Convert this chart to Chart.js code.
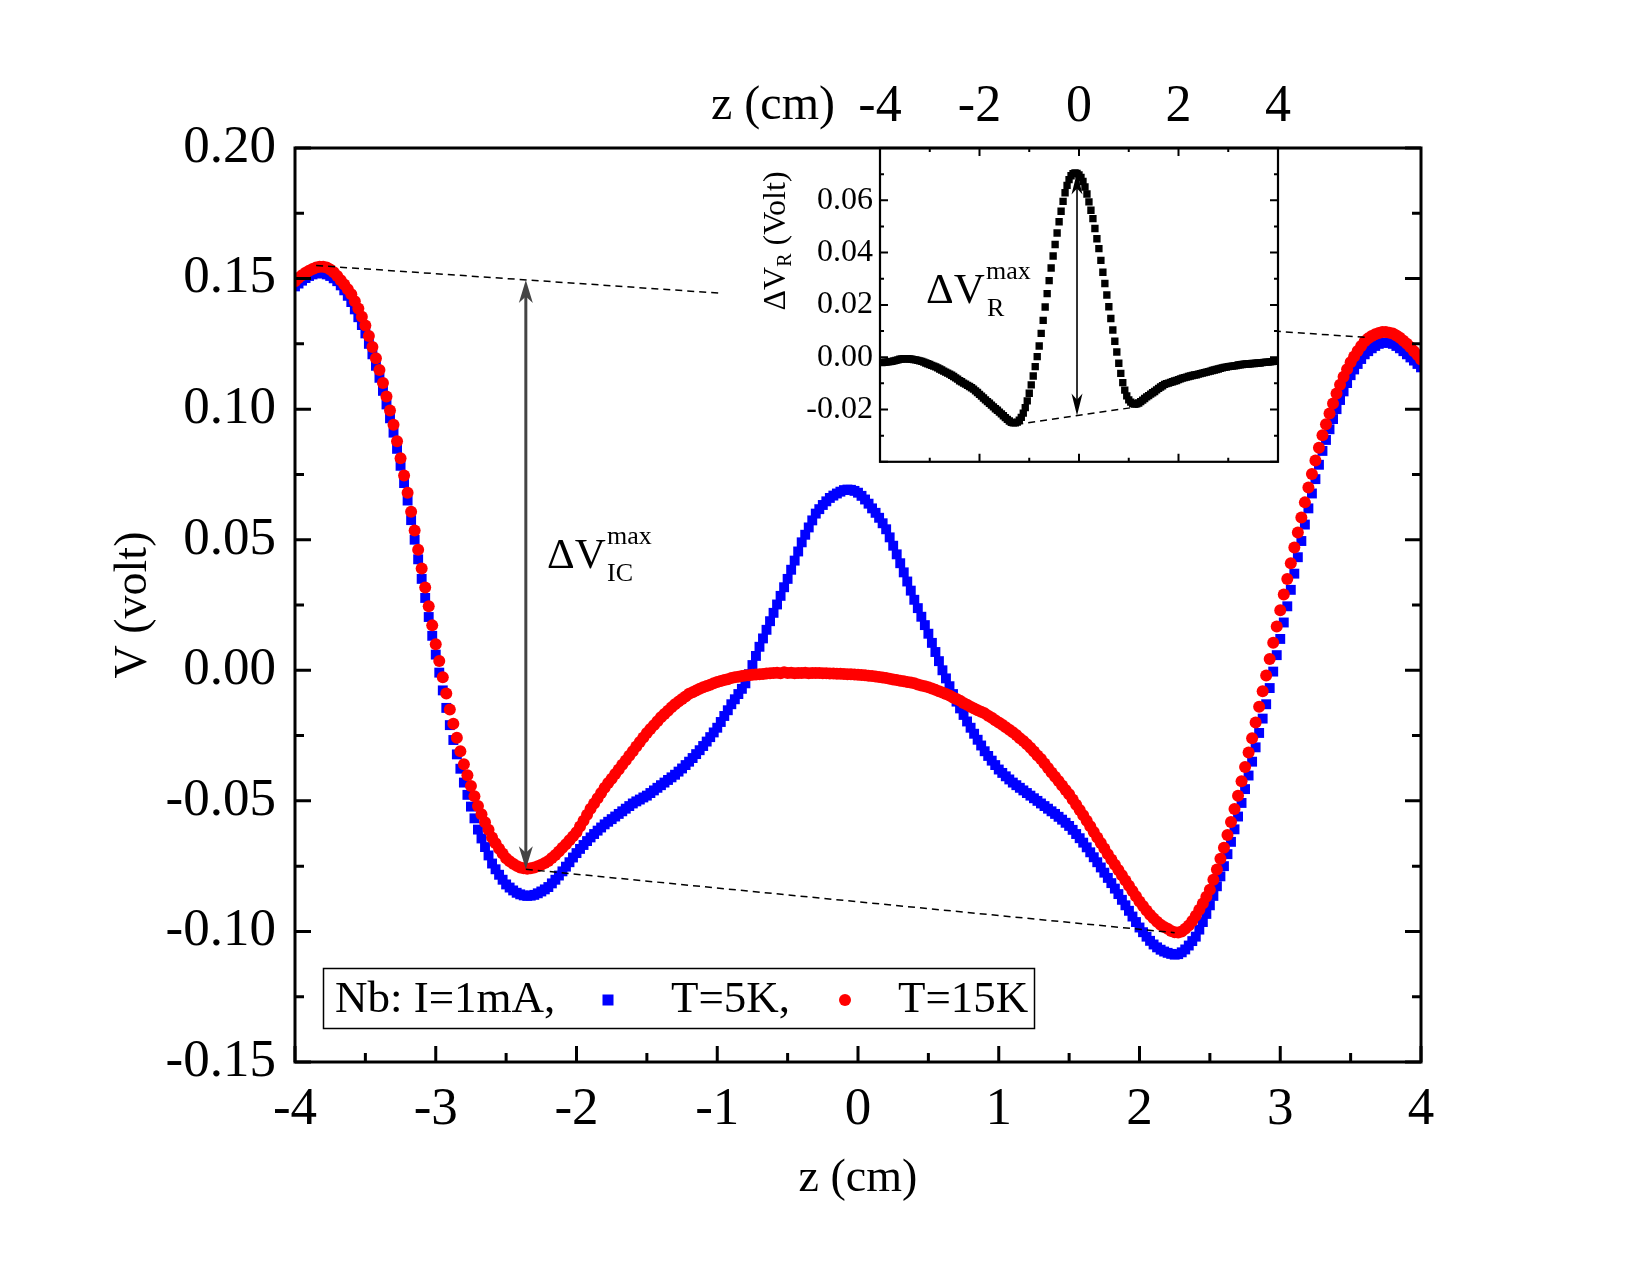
<!DOCTYPE html>
<html><head><meta charset="utf-8">
<script src="https://cdn.jsdelivr.net/npm/chart.js@4/dist/chart.umd.min.js"></script>
<style>
html,body{margin:0;padding:0;background:#fff;}
#wrap{position:relative;width:1650px;height:1275px;background:#fff;}
#main{position:absolute;left:0;top:0;}
#inset{position:absolute;left:700px;top:0;}
</style></head><body>
<div id="wrap"><canvas id="main" width="1650" height="1275"></canvas><canvas id="inset" width="600" height="488"></canvas></div>
<script>
const FONT = '"Liberation Serif", "Times New Roman", serif';

// ---------- main chart data: V (volt) vs z (cm), z from -4 step 0.025 ----------
const zStart = -4, zStep = 0.025;
const seriesNames = ['T=5K', 'T=15K'];
const vT5K = [
0.1470,0.1481,0.1492,0.1502,0.1510,0.1516,0.1520,0.1521,
0.1520,0.1516,0.1510,0.1501,0.1490,0.1474,0.1455,0.1434,
0.1410,0.1382,0.1352,0.1322,0.1290,0.1250,0.1210,0.1166,
0.1120,0.1070,0.1018,0.0965,0.0910,0.0848,0.0783,0.0717,
0.0650,0.0575,0.0500,0.0425,0.0350,0.0277,0.0204,0.0132,
0.0060,-0.0009,-0.0077,-0.0144,-0.0210,-0.0267,-0.0322,-0.0377,
-0.0430,-0.0477,-0.0522,-0.0567,-0.0610,-0.0644,-0.0677,-0.0709,
-0.0740,-0.0762,-0.0783,-0.0802,-0.0820,-0.0832,-0.0843,-0.0852,
-0.0858,-0.0862,-0.0864,-0.0863,-0.0860,-0.0854,-0.0847,-0.0839,
-0.0830,-0.0816,-0.0802,-0.0786,-0.0770,-0.0752,-0.0735,-0.0717,
-0.0700,-0.0684,-0.0669,-0.0654,-0.0640,-0.0627,-0.0614,-0.0602,
-0.0590,-0.0580,-0.0570,-0.0560,-0.0550,-0.0540,-0.0530,-0.0520,
-0.0510,-0.0502,-0.0495,-0.0487,-0.0480,-0.0470,-0.0460,-0.0450,
-0.0440,-0.0430,-0.0420,-0.0410,-0.0400,-0.0388,-0.0376,-0.0363,
-0.0350,-0.0336,-0.0321,-0.0306,-0.0290,-0.0273,-0.0256,-0.0238,
-0.0220,-0.0198,-0.0175,-0.0153,-0.0130,-0.0111,-0.0091,-0.0071,
-0.0050,-0.0015,0.0020,0.0055,0.0090,0.0122,0.0155,0.0188,
0.0220,0.0252,0.0285,0.0318,0.0350,0.0385,0.0420,0.0455,
0.0490,0.0519,0.0547,0.0574,0.0600,0.0617,0.0633,0.0647,
0.0660,0.0669,0.0677,0.0684,0.0690,0.0692,0.0691,0.0687,
0.0680,0.0668,0.0654,0.0638,0.0620,0.0603,0.0584,0.0563,
0.0540,0.0509,0.0477,0.0444,0.0410,0.0375,0.0340,0.0305,
0.0270,0.0238,0.0205,0.0173,0.0140,0.0105,0.0070,0.0035,
0.0000,-0.0031,-0.0061,-0.0091,-0.0120,-0.0146,-0.0171,-0.0196,
-0.0220,-0.0243,-0.0266,-0.0288,-0.0310,-0.0328,-0.0346,-0.0363,
-0.0380,-0.0393,-0.0406,-0.0418,-0.0430,-0.0440,-0.0450,-0.0460,
-0.0470,-0.0480,-0.0490,-0.0500,-0.0510,-0.0520,-0.0530,-0.0540,
-0.0550,-0.0561,-0.0572,-0.0584,-0.0596,-0.0611,-0.0627,-0.0643,
-0.0660,-0.0678,-0.0697,-0.0716,-0.0735,-0.0755,-0.0775,-0.0795,
-0.0815,-0.0836,-0.0857,-0.0879,-0.0900,-0.0921,-0.0943,-0.0964,
-0.0985,-0.1003,-0.1020,-0.1036,-0.1050,-0.1061,-0.1070,-0.1077,
-0.1082,-0.1086,-0.1089,-0.1087,-0.1080,-0.1069,-0.1054,-0.1037,
-0.1020,-0.0993,-0.0964,-0.0933,-0.0900,-0.0864,-0.0827,-0.0789,
-0.0750,-0.0704,-0.0657,-0.0609,-0.0560,-0.0508,-0.0455,-0.0403,
-0.0350,-0.0295,-0.0240,-0.0185,-0.0130,-0.0068,-0.0005,0.0058,
0.0120,0.0183,0.0245,0.0308,0.0370,0.0433,0.0495,0.0558,
0.0620,0.0677,0.0732,0.0787,0.0840,0.0882,0.0923,0.0962,
0.1000,0.1035,0.1068,0.1100,0.1130,0.1152,0.1173,0.1192,
0.1210,0.1222,0.1233,0.1242,0.1250,0.1254,0.1255,0.1254,
0.1250,0.1242,0.1233,0.1222,0.1210,0.1198,0.1186,0.1173,
0.1160];
const vT15K = [
0.1490,0.1502,0.1513,0.1522,0.1530,0.1537,0.1542,0.1545,
0.1545,0.1542,0.1535,0.1524,0.1510,0.1494,0.1477,0.1459,
0.1440,0.1413,0.1385,0.1354,0.1320,0.1280,0.1238,0.1195,
0.1150,0.1100,0.1048,0.0995,0.0940,0.0877,0.0812,0.0746,
0.0680,0.0607,0.0535,0.0462,0.0390,0.0317,0.0245,0.0172,
0.0100,0.0036,-0.0027,-0.0089,-0.0150,-0.0205,-0.0258,-0.0310,
-0.0360,-0.0402,-0.0443,-0.0482,-0.0520,-0.0551,-0.0582,-0.0611,
-0.0640,-0.0662,-0.0683,-0.0702,-0.0720,-0.0731,-0.0741,-0.0749,
-0.0755,-0.0758,-0.0760,-0.0758,-0.0755,-0.0750,-0.0745,-0.0738,
-0.0730,-0.0719,-0.0707,-0.0694,-0.0680,-0.0666,-0.0651,-0.0636,
-0.0620,-0.0598,-0.0576,-0.0553,-0.0530,-0.0510,-0.0490,-0.0470,
-0.0450,-0.0432,-0.0415,-0.0397,-0.0380,-0.0362,-0.0345,-0.0327,
-0.0310,-0.0292,-0.0275,-0.0257,-0.0240,-0.0225,-0.0210,-0.0195,
-0.0180,-0.0167,-0.0155,-0.0142,-0.0130,-0.0120,-0.0110,-0.0100,
-0.0090,-0.0084,-0.0077,-0.0071,-0.0065,-0.0060,-0.0055,-0.0050,
-0.0045,-0.0041,-0.0037,-0.0034,-0.0030,-0.0027,-0.0025,-0.0022,
-0.0020,-0.0019,-0.0017,-0.0016,-0.0015,-0.0014,-0.0012,-0.0011,
-0.0010,-0.0009,-0.0011,-0.0008,-0.0010,-0.0009,-0.0011,-0.0010,
-0.0010,-0.0009,-0.0011,-0.0010,-0.0010,-0.0010,-0.0011,-0.0011,
-0.0012,-0.0012,-0.0013,-0.0013,-0.0014,-0.0015,-0.0015,-0.0016,
-0.0017,-0.0018,-0.0019,-0.0021,-0.0022,-0.0024,-0.0026,-0.0028,
-0.0030,-0.0032,-0.0035,-0.0037,-0.0040,-0.0042,-0.0045,-0.0047,
-0.0050,-0.0054,-0.0058,-0.0061,-0.0065,-0.0070,-0.0075,-0.0080,
-0.0085,-0.0091,-0.0097,-0.0104,-0.0110,-0.0117,-0.0125,-0.0132,
-0.0140,-0.0146,-0.0153,-0.0159,-0.0165,-0.0174,-0.0182,-0.0191,
-0.0200,-0.0209,-0.0218,-0.0228,-0.0237,-0.0248,-0.0260,-0.0271,
-0.0283,-0.0297,-0.0311,-0.0326,-0.0340,-0.0357,-0.0374,-0.0391,
-0.0408,-0.0424,-0.0441,-0.0458,-0.0475,-0.0495,-0.0515,-0.0535,
-0.0555,-0.0576,-0.0597,-0.0619,-0.0640,-0.0661,-0.0682,-0.0704,
-0.0725,-0.0745,-0.0765,-0.0785,-0.0805,-0.0825,-0.0845,-0.0865,
-0.0885,-0.0903,-0.0920,-0.0936,-0.0950,-0.0963,-0.0974,-0.0983,
-0.0990,-0.0998,-0.1003,-0.1004,-0.1000,-0.0990,-0.0977,-0.0960,
-0.0940,-0.0917,-0.0893,-0.0867,-0.0840,-0.0802,-0.0763,-0.0722,
-0.0680,-0.0631,-0.0581,-0.0531,-0.0480,-0.0425,-0.0370,-0.0315,
-0.0260,-0.0200,-0.0140,-0.0080,-0.0020,0.0043,0.0105,0.0168,
0.0230,0.0290,0.0350,0.0410,0.0470,0.0528,0.0585,0.0643,
0.0700,0.0752,0.0803,0.0852,0.0900,0.0942,0.0983,0.1022,
0.1060,0.1093,0.1124,0.1153,0.1180,0.1202,0.1223,0.1242,
0.1260,0.1271,0.1280,0.1287,0.1292,0.1295,0.1295,0.1293,
0.1290,0.1282,0.1273,0.1262,0.1250,0.1237,0.1222,0.1207,
0.1190];

// ---------- inset data: ΔV_R (Volt) vs z (cm), z from -4 step 0.04 ----------
const insetStart = -4, insetStep = 0.04;
const dVR = [
-0.0020,-0.0021,-0.0020,-0.0019,-0.0018,
-0.0017,-0.0016,-0.0014,-0.0012,-0.0010,
-0.0008,-0.0007,-0.0006,-0.0006,-0.0006,
-0.0007,-0.0008,-0.0009,-0.0010,-0.0012,
-0.0014,-0.0016,-0.0019,-0.0022,-0.0025,
-0.0028,-0.0031,-0.0034,-0.0037,-0.0041,
-0.0045,-0.0049,-0.0053,-0.0057,-0.0061,
-0.0065,-0.0069,-0.0074,-0.0079,-0.0084,
-0.0090,-0.0094,-0.0099,-0.0103,-0.0108,
-0.0112,-0.0117,-0.0122,-0.0129,-0.0135,
-0.0142,-0.0149,-0.0156,-0.0163,-0.0170,
-0.0176,-0.0183,-0.0190,-0.0197,-0.0203,
-0.0210,-0.0217,-0.0224,-0.0231,-0.0238,
-0.0244,-0.0249,-0.0251,-0.0251,-0.0248,
-0.0241,-0.0230,-0.0214,-0.0193,-0.0167,
-0.0138,-0.0106,-0.0072,-0.0036,0.0002,
0.0043,0.0091,0.0141,0.0192,0.0243,
0.0293,0.0341,0.0387,0.0431,0.0475,
0.0518,0.0558,0.0596,0.0629,0.0657,
0.0679,0.0694,0.0702,0.0705,0.0703,
0.0697,0.0687,0.0672,0.0651,0.0624,
0.0594,0.0562,0.0530,0.0492,0.0453,
0.0415,0.0370,0.0325,0.0282,0.0238,
0.0193,0.0148,0.0104,0.0061,0.0020,
-0.0023,-0.0062,-0.0097,-0.0126,-0.0148,
-0.0163,-0.0172,-0.0177,-0.0179,-0.0178,
-0.0175,-0.0170,-0.0164,-0.0158,-0.0152,
-0.0147,-0.0141,-0.0136,-0.0131,-0.0125,
-0.0119,-0.0114,-0.0109,-0.0104,-0.0101,
-0.0099,-0.0096,-0.0094,-0.0091,-0.0089,
-0.0086,-0.0083,-0.0080,-0.0078,-0.0076,
-0.0074,-0.0072,-0.0070,-0.0068,-0.0067,
-0.0065,-0.0063,-0.0061,-0.0059,-0.0057,
-0.0055,-0.0053,-0.0051,-0.0049,-0.0047,
-0.0045,-0.0043,-0.0041,-0.0039,-0.0038,
-0.0036,-0.0035,-0.0034,-0.0033,-0.0032,
-0.0030,-0.0029,-0.0028,-0.0027,-0.0026,
-0.0026,-0.0025,-0.0024,-0.0024,-0.0023,
-0.0022,-0.0022,-0.0021,-0.0020,-0.0019,
-0.0019,-0.0018,-0.0017,-0.0016,-0.0015,
-0.0014];

// ---------- ticks ----------
const mainXTicks = [-4,-3,-2,-1,0,1,2,3,4];
const mainXTickLabels = ['-4','-3','-2','-1','0','1','2','3','4'];
const mainXMinor = [-3.5,-2.5,-1.5,-0.5,0.5,1.5,2.5,3.5];
const mainYTicks = [-0.15,-0.10,-0.05,0,0.05,0.10,0.15,0.20];
const mainYTickLabels = ['-0.15','-0.10','-0.05','0.00','0.05','0.10','0.15','0.20'];
const mainYMinor = [-0.125,-0.075,-0.025,0.025,0.075,0.125,0.175];
const insetXTicks = [-4,-2,0,2,4];
const insetXTickLabels = ['-4','-2','0','2','4'];
const insetXMinor = [-3,-1,1,3];
const insetYTicks = [-0.02,0,0.02,0.04,0.06];
const insetYTickLabels = ['-0.02','0.00','0.02','0.04','0.06'];
const insetYMajor = [-0.04,-0.02,0,0.02,0.04,0.06,0.08];
const insetYMinor = [-0.03,-0.01,0.01,0.03,0.05,0.07];

// ---------- annotation guides (data coordinates) ----------
const mainGuides = [[[-3.85,0.155],[3.6,0.1275]], [[-2.36,-0.0762],[2.25,-0.1005]]];
const icArrow = [-2.36, 0.1495, -0.0762];   // z, top V, bottom V
const insetGuide = [[-1.26,-0.0257],[1.2,-0.0189]];
const rArrow = [-0.04, 0.0706, -0.0223];

const toPts = (start, step, arr) => arr.map((v,i)=>({x: +(start + i*step).toFixed(3), y: v}));

function tickMarks(ctx, scale, values, len, side, a) {
  ctx.beginPath();
  for (const v of values) {
    const p = scale.getPixelForValue(v);
    if (side==='bottom'){ ctx.moveTo(p, a.bottom); ctx.lineTo(p, a.bottom-len); }
    else if (side==='top'){ ctx.moveTo(p, a.top); ctx.lineTo(p, a.top+len); }
    else if (side==='left'){ ctx.moveTo(a.left, p); ctx.lineTo(a.left+len, p); }
    else { ctx.moveTo(a.right, p); ctx.lineTo(a.right-len, p); }
  }
  ctx.stroke();
}
function arrowHead(ctx, x, yTip, dir, len, w) {
  const b = yTip + dir*len;
  ctx.beginPath();
  ctx.moveTo(x, yTip);
  ctx.lineTo(x - w/2, b);
  ctx.lineTo(x, yTip + dir*len*0.72);
  ctx.lineTo(x + w/2, b);
  ctx.closePath();
  ctx.fill();
}
function vArrow(ctx, x, yTop, yBot, color, lw, len, w) {
  ctx.save();
  ctx.strokeStyle = color; ctx.fillStyle = color; ctx.lineWidth = lw;
  ctx.beginPath(); ctx.moveTo(x, yTop + len*0.6); ctx.lineTo(x, yBot - len*0.6); ctx.stroke();
  arrowHead(ctx, x, yTop, 1, len, w);
  arrowHead(ctx, x, yBot, -1, len, w);
  ctx.restore();
}
function dashed(ctx, xs, ys, p1, p2, lw) {
  ctx.save();
  ctx.setLineDash([7,5]); ctx.lineWidth = lw; ctx.strokeStyle = '#000';
  ctx.beginPath();
  ctx.moveTo(xs.getPixelForValue(p1[0]), ys.getPixelForValue(p1[1]));
  ctx.lineTo(xs.getPixelForValue(p2[0]), ys.getPixelForValue(p2[1]));
  ctx.stroke();
  ctx.restore();
}

const mainDecor = {
  id: 'mainDecor',
  afterDraw(chart) {
    const {ctx, chartArea: a, scales: {x, y}} = chart;
    ctx.save();
    for (const g of mainGuides) dashed(ctx, x, y, g[0], g[1], 1.5);
    vArrow(ctx, x.getPixelForValue(icArrow[0]), y.getPixelForValue(icArrow[1]), y.getPixelForValue(icArrow[2]), '#444', 3, 23, 14);
    ctx.strokeStyle = '#000'; ctx.lineWidth = 3; ctx.lineCap = 'butt';
    tickMarks(ctx, x, mainXTicks, 16, 'bottom', a);
    tickMarks(ctx, x, mainXMinor, 9, 'bottom', a);
    tickMarks(ctx, y, mainYTicks, 16, 'left', a);
    tickMarks(ctx, y, mainYMinor, 9, 'left', a);
    tickMarks(ctx, y, mainYTicks, 16, 'right', a);
    tickMarks(ctx, y, mainYMinor, 9, 'right', a);
    ctx.lineJoin = 'miter';
    ctx.strokeRect(a.left, a.top, a.right - a.left, a.bottom - a.top);
    ctx.fillStyle = '#000'; ctx.textBaseline = 'alphabetic'; ctx.textAlign = 'left';
    ctx.font = `43px ${FONT}`; ctx.fillText('ΔV', 547, 568);
    ctx.font = `26px ${FONT}`; ctx.fillText('max', 607, 544); ctx.fillText('IC', 607, 581);
    ctx.lineWidth = 1.5;
    ctx.strokeRect(323.5, 968.5, 711, 60);
    ctx.font = `45px ${FONT}`; ctx.textBaseline = 'middle';
    ctx.fillText('Nb: I=1mA,', 335, 1000);
    ctx.fillStyle = '#0000ff'; ctx.fillRect(602.5, 994.5, 11, 11);
    ctx.fillStyle = '#000'; ctx.fillText(seriesNames[0] + ',', 671, 1000);
    ctx.fillStyle = '#ff0000'; ctx.beginPath(); ctx.arc(845, 1000, 6, 0, Math.PI*2); ctx.fill();
    ctx.fillStyle = '#000'; ctx.fillText(seriesNames[1], 898, 1000);
    ctx.restore();
  }
};

new Chart(document.getElementById('main'), {
  type: 'scatter',
  data: { datasets: [
    { label: seriesNames[1], data: toPts(zStart, zStep, vT15K), pointStyle: 'circle', pointRadius: 6, pointHoverRadius: 6,
      backgroundColor: '#ff0000', borderWidth: 0, order: 0, clip: 0 },
    { label: seriesNames[0], data: toPts(zStart, zStep, vT5K), pointStyle: 'rect', pointRadius: 7, pointHoverRadius: 7,
      backgroundColor: '#0000ff', borderWidth: 0, order: 1, clip: 0 }
  ]},
  options: {
    responsive: false, animation: false, events: [], devicePixelRatio: 1,
    layout: { padding: { left: 0, top: 148, right: 229, bottom: 0 } },
    plugins: { legend: { display: false }, tooltip: { enabled: false } },
    scales: {
      x: { type: 'linear', position: 'bottom', min: -4, max: 4,
        afterBuildTicks: s => { s.ticks = mainXTicks.map(v => ({value: v})); },
        afterFit: s => { s.height = 213; },
        grid: { display: false, drawTicks: false }, border: { display: false },
        ticks: { autoSkip: false, maxRotation: 0, minRotation: 0, padding: 16, color: '#000',
          font: { family: FONT, size: 53 }, callback: (v, i) => mainXTickLabels[i] },
        title: { display: true, text: 'z (cm)', color: '#000', font: { family: FONT, size: 46 }, padding: { top: 0, bottom: 68 } }
      },
      y: { type: 'linear', position: 'left', min: -0.15, max: 0.20,
        afterBuildTicks: s => { s.ticks = mainYTicks.map(v => ({value: v})); },
        afterFit: s => { s.width = 295; },
        grid: { display: false, drawTicks: false }, border: { display: false },
        ticks: { autoSkip: false, padding: 19, color: '#000',
          font: { family: FONT, size: 53 }, callback: (v, i) => mainYTickLabels[i] },
        title: { display: true, text: 'V (volt)', color: '#000', font: { family: FONT, size: 46 }, padding: { top: 106, bottom: 0 } }
      }
    }
  },
  plugins: [mainDecor]
});

const insetDecor = {
  id: 'insetDecor',
  beforeDraw(chart) {
    const {ctx, chartArea: a} = chart;
    ctx.save(); ctx.fillStyle = '#fff';
    ctx.fillRect(21, 150, a.right - 21, a.bottom - 150);
    ctx.restore();
  },
  afterDraw(chart) {
    const {ctx, chartArea: a, scales: {x, y}} = chart;
    ctx.save();
    dashed(ctx, x, y, insetGuide[0], insetGuide[1], 1.5);
    vArrow(ctx, x.getPixelForValue(rArrow[0]), y.getPixelForValue(rArrow[1]), y.getPixelForValue(rArrow[2]), '#000', 1.6, 22, 11);
    ctx.strokeStyle = '#000'; ctx.lineWidth = 2;
    tickMarks(ctx, x, insetXTicks, 8, 'top', a);
    tickMarks(ctx, x, insetXMinor, 4, 'top', a);
    tickMarks(ctx, x, insetXTicks, 8, 'bottom', a);
    tickMarks(ctx, x, insetXMinor, 4, 'bottom', a);
    tickMarks(ctx, y, insetYMajor, 8, 'left', a);
    tickMarks(ctx, y, insetYMinor, 4, 'left', a);
    tickMarks(ctx, y, insetYMajor, 8, 'right', a);
    tickMarks(ctx, y, insetYMinor, 4, 'right', a);
    ctx.lineWidth = 2.2;
    ctx.strokeRect(a.left, a.top, a.right - a.left, a.bottom - a.top);
    ctx.fillStyle = '#000'; ctx.textAlign = 'left'; ctx.textBaseline = 'alphabetic';
    ctx.font = `43px ${FONT}`; ctx.fillText('ΔV', 226, 303);
    ctx.font = `26px ${FONT}`; ctx.fillText('max', 286, 279); ctx.fillText('R', 287, 316);
    ctx.font = `48px ${FONT}`; ctx.textAlign = 'center'; ctx.textBaseline = 'middle';
    ctx.fillText('z (cm)', 73, 106);
    ctx.save();
    ctx.translate(74, 241); ctx.rotate(-Math.PI/2);
    ctx.textAlign = 'left'; ctx.textBaseline = 'alphabetic';
    const f1 = `32px ${FONT}`, f2 = `20px ${FONT}`;
    ctx.font = f1; const w1 = ctx.measureText('ΔV').width; const w3 = ctx.measureText(' (Volt)').width;
    ctx.font = f2; const w2 = ctx.measureText('R').width;
    const tot = w1 + w2 + w3; let cx = -tot/2;
    ctx.font = f1; ctx.fillText('ΔV', cx, 11); cx += w1;
    ctx.font = f2; ctx.fillText('R', cx, 17); cx += w2;
    ctx.font = f1; ctx.fillText(' (Volt)', cx, 11);
    ctx.restore();
    ctx.restore();
  }
};

new Chart(document.getElementById('inset'), {
  type: 'scatter',
  data: { datasets: [
    { label: 'ΔV_R', data: toPts(insetStart, insetStep, dVR), pointStyle: 'rect', pointRadius: 5.2, pointHoverRadius: 5.2,
      backgroundColor: '#000', borderWidth: 0, clip: 0 }
  ]},
  options: {
    responsive: false, animation: false, events: [], devicePixelRatio: 1,
    layout: { padding: { left: 0, top: 0, right: 20, bottom: 25 } },
    plugins: { legend: { display: false }, tooltip: { enabled: false } },
    scales: {
      x: { type: 'linear', position: 'top', min: -4, max: 4,
        afterBuildTicks: s => { s.ticks = insetXTicks.map(v => ({value: v})); },
        afterFit: s => { s.height = 148; },
        grid: { display: false, drawTicks: false }, border: { display: false },
        ticks: { autoSkip: false, maxRotation: 0, minRotation: 0, padding: 9, color: '#000',
          font: { family: FONT, size: 52 }, callback: (v, i) => insetXTickLabels[i] }
      },
      y: { type: 'linear', position: 'left', min: -0.04, max: 0.08,
        afterBuildTicks: s => { s.ticks = insetYTicks.map(v => ({value: v})); },
        afterFit: s => { s.width = 180; },
        grid: { display: false, drawTicks: false }, border: { display: false },
        ticks: { autoSkip: false, padding: 7, color: '#000',
          font: { family: FONT, size: 32 }, callback: (v, i) => insetYTickLabels[i] }
      }
    }
  },
  plugins: [insetDecor]
});
</script>
</body></html>
